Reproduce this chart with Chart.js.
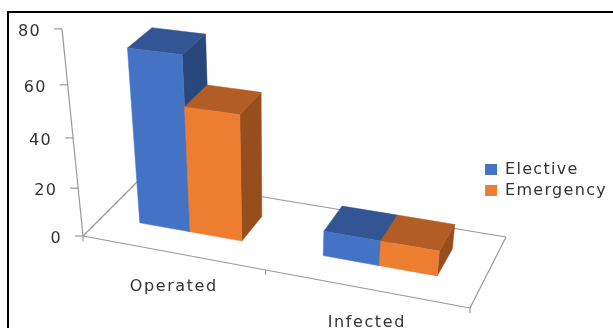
<!DOCTYPE html>
<html>
<head>
<meta charset="utf-8">
<style>
  html, body { margin: 0; padding: 0; background: #fff; overflow: hidden; }
  #frame { position: absolute; left: 7px; top: 11px; width: 620px; height: 340px; border: 2px solid #000; }
  #wrap { position: absolute; left: 0; top: 0; width: 613px; height: 328px; }
</style>
</head>
<body>
<div id="frame"></div>
<div id="wrap"><canvas id="myChart"></canvas></div>
<script src="https://cdn.jsdelivr.net/npm/chart.js@4"></script>
<script>
// Chart values
var categories = ['Operated', 'Infected'];
var elective = [69, 10];
var emergency = [50, 10];
var yTicks = [0, 20, 40, 60, 80];

// Floor of the 3D box on screen: left front, right front, right back, left back
var floor = [[83, 236], [470, 308], [506, 237], [142, 177]];
// Point where the vertical edges meet, and how strong the height foreshortening is
var vanish = [272, 2100];
var heightPull = -0.1;
// Where the bars sit between the front (0) and back (1) of the floor
var barFront = 0.32, barBack = 0.71;

var axisColor = '#999999';
var textColor = '#333333';
var fontFamily = '"DejaVu Sans"';
var textSpacing = '1.3px';

// Unit square to floor quad, standard projective mapping
function makeFloor(q) {
    var dx1 = q[1][0] - q[2][0], dx2 = q[3][0] - q[2][0], sx = q[0][0] - q[1][0] + q[2][0] - q[3][0];
    var dy1 = q[1][1] - q[2][1], dy2 = q[3][1] - q[2][1], sy = q[0][1] - q[1][1] + q[2][1] - q[3][1];
    var det = dx1 * dy2 - dx2 * dy1;
    var g = (sx * dy2 - dx2 * sy) / det;
    var h = (dx1 * sy - sx * dy1) / det;
    return {
        a: q[1][0] - q[0][0] + g * q[1][0], b: q[3][0] - q[0][0] + h * q[3][0], c: q[0][0],
        d: q[1][1] - q[0][1] + g * q[1][1], e: q[3][1] - q[0][1] + h * q[3][1], f: q[0][1],
        g: g, h: h
    };
}
var m = makeFloor(floor);

// u along the categories, d into the depth, v = height as a fraction of the y scale
function project(u, d, v) {
    var w = m.g * u + m.h * d + 1;
    var t = v * heightPull;
    return [
        (m.a * u + m.b * d + m.c + t * vanish[0]) / (w + t),
        (m.d * u + m.e * d + m.f + t * vanish[1]) / (w + t)
    ];
}

function line(ctx, a, b) {
    ctx.beginPath();
    ctx.moveTo(a[0], a[1]);
    ctx.lineTo(b[0], b[1]);
    ctx.stroke();
}

function face(ctx, pts, color) {
    ctx.beginPath();
    ctx.moveTo(pts[0][0], pts[0][1]);
    for (var i = 1; i < pts.length; i++) ctx.lineTo(pts[i][0], pts[i][1]);
    ctx.closePath();
    ctx.fillStyle = color;
    ctx.fill();
    ctx.strokeStyle = color;
    ctx.lineWidth = 0.5;
    ctx.stroke();
}

function drawAxes(chart) {
    var ctx = chart.ctx, area = chart.chartArea;
    var yScale = chart.scales.y, xScale = chart.scales.x;
    ctx.save();
    ctx.strokeStyle = axisColor;
    ctx.lineWidth = 1.2;

    // floor outline and the left wall edge
    line(ctx, project(0, 0, 0), project(1, 0, 0));
    line(ctx, project(1, 0, 0), project(1, 1, 0));
    line(ctx, project(1, 1, 0), project(0, 1, 0));
    line(ctx, project(0, 1, 0), project(0, 0, 0));
    line(ctx, project(0, 0, 0), project(0, 0, 1));

    // y ticks and labels
    ctx.fillStyle = textColor;
    ctx.font = '16px ' + fontFamily;
    ctx.textAlign = 'right';
    ctx.textBaseline = 'middle';
    yTicks.forEach(function (value) {
        var v = (area.bottom - yScale.getPixelForValue(value)) / area.height;
        var p = project(0, 0, v);
        line(ctx, p, [p[0] - 8, p[1]]);
        ctx.fillText(String(value), p[0] - 21, p[1] + 3);
    });

    // x ticks at category boundaries
    [0, 1, 2].forEach(function (i) {
        var p = project(i / 2, 0, 0);
        line(ctx, p, [p[0], p[1] + 5]);
    });

    // category labels under the front edge
    ctx.textAlign = 'center';
    ctx.letterSpacing = '1.6px';
    categories.forEach(function (name, i) {
        var u = (xScale.getPixelForValue(i) - area.left) / area.width;
        var p = project(u, 0, 0);
        ctx.fillText(name, p[0] + 2, p[1] + 34);
    });
    ctx.restore();
}

function drawBox(chart, el, colors) {
    var ctx = chart.ctx, area = chart.chartArea;
    var props = el.getProps(['x', 'y', 'width'], true);
    var u0 = (props.x - props.width / 2 - area.left) / area.width;
    var u1 = (props.x + props.width / 2 - area.left) / area.width;
    var v = (area.bottom - props.y) / area.height;

    var fbl = project(u0, barFront, 0), fbr = project(u1, barFront, 0);
    var ftl = project(u0, barFront, v), ftr = project(u1, barFront, v);
    var bbr = project(u1, barBack, 0);
    var btl = project(u0, barBack, v), btr = project(u1, barBack, v);

    face(ctx, [fbr, bbr, btr, ftr], colors.side);
    face(ctx, [ftl, ftr, btr, btl], colors.top);
    face(ctx, [fbl, fbr, ftr, ftl], colors.front);
}

// The scales give the bar geometry, this plugin puts it into the 3D box
var box3d = {
    id: 'box3d',
    beforeUpdate: function (chart) {
        chart.ctx.letterSpacing = textSpacing;
    },
    beforeDraw: function (chart) {
        chart.ctx.letterSpacing = textSpacing;
    },
    beforeDatasetsDraw: function (chart) {
        drawAxes(chart);
        chart.data.datasets.forEach(function (ds, i) {
            chart.getDatasetMeta(i).data.forEach(function (el) {
                drawBox(chart, el, ds.faces);
            });
        });
        return false;
    }
};

var ctx = document.getElementById('myChart').getContext('2d');
var myChart = new Chart(ctx, {
    type: 'bar',
    data: {
        labels: categories,
        datasets: [
            {
                label: 'Elective',
                data: elective,
                backgroundColor: '#4472c4',
                faces: { front: '#4472c4', top: '#335593', side: '#2a477c' }
            },
            {
                label: 'Emergency',
                data: emergency,
                backgroundColor: '#ed7d31',
                faces: { front: '#ed7d31', top: '#b25d25', side: '#954e1c' }
            }
        ]
    },
    options: {
        responsive: true,
        maintainAspectRatio: false,
        animation: false,
        barPercentage: 1,
        categoryPercentage: 0.57,
        layout: { padding: { top: 32, bottom: 0, right: -4 } },
        scales: {
            x: { display: false },
            y: { display: false, min: 0, max: 80, ticks: { stepSize: 20 } }
        },
        plugins: {
            tooltip: { enabled: false },
            legend: {
                position: 'right',
                labels: {
                    boxWidth: 12,
                    boxHeight: 11,
                    padding: 5,
                    color: textColor,
                    font: { family: fontFamily, size: 16 }
                }
            }
        }
    },
    plugins: [box3d]
});
</script>
</body>
</html>
